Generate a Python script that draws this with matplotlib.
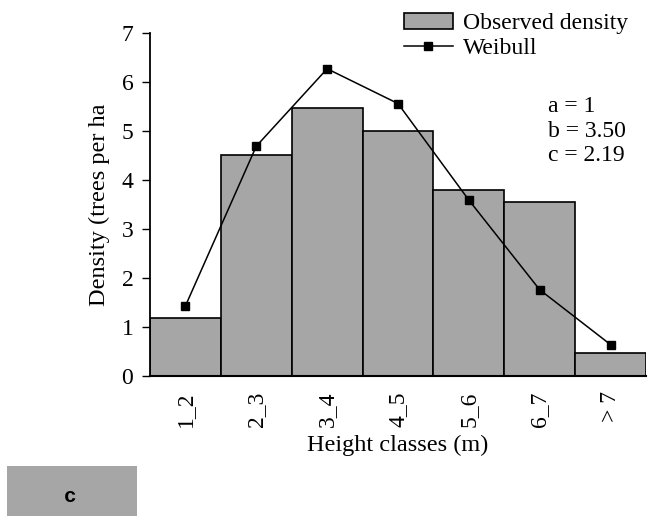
import matplotlib
matplotlib.use("Agg")
import matplotlib.pyplot as plt
from matplotlib.patches import Rectangle

plt.rcParams['font.family'] = ['Liberation Serif', 'DejaVu Serif']

categories = ["1_2", "2_3", "3_4", "4_5", "5_6", "6_7", "> 7"]
observed = [1.18, 4.52, 5.47, 5.00, 3.80, 3.56, 0.46]
weibull = [1.43, 4.69, 6.27, 5.56, 3.59, 1.76, 0.64]
params_text = "a = 1\nb = 3.50\nc = 2.19"

fig = plt.figure(figsize=(6.51, 5.16), dpi=100)
ax = fig.add_axes([150/651, (516-376)/516, 496/651, 343/516])

x = list(range(len(categories)))
bars = ax.bar(x, observed, width=1.0, color="#a6a6a6", edgecolor="black",
              linewidth=1.2, label="Observed density", zorder=2)
line, = ax.plot(x, weibull, color="black", linewidth=1.1, marker="s",
                markersize=6, label="Weibull", zorder=3)

ax.set_xlim(-0.5, len(categories) - 0.5)
ax.set_ylim(0, 7)
ax.set_yticks(range(0, 8))
ax.set_xticks(x)
ax.set_xticklabels(categories, rotation=90, fontsize=17)
ax.tick_params(axis='x', length=0, pad=11)
ax.tick_params(axis='y', length=6, width=1.0, labelsize=17, direction='out', pad=6)
for s in ("top", "right"):
    ax.spines[s].set_visible(False)
ax.spines["left"].set_linewidth(1.3)
ax.spines["bottom"].set_linewidth(1.5)

ax.set_xlabel("Height classes (m)", fontsize=17.5, labelpad=6)
ax.set_ylabel("Density (trees per ha", fontsize=17.5, labelpad=8)

ax.text(0.802, 0.815, params_text, transform=ax.transAxes, fontsize=17,
        va="top", ha="left", linespacing=1.2)

leg = fig.legend(handles=[bars, line], loc="upper left",
                 bbox_to_anchor=(387/651, 1.0 + 4/516), frameon=False,
                 fontsize=17, handlelength=2.1, handletextpad=0.42,
                 labelspacing=0.15, borderpad=0.2)

# bottom-left panel label
fig.patches.append(Rectangle((7/651, 0), 130/651, 50/516, transform=fig.transFigure,
                             facecolor="#a6a6a6", edgecolor="none"))
fig.text(70/651, 19/516, "c", fontsize=15, fontweight="bold", family="Liberation Mono",
         ha="center", va="center", color="black")

fig.savefig("out.png", dpi=100)
